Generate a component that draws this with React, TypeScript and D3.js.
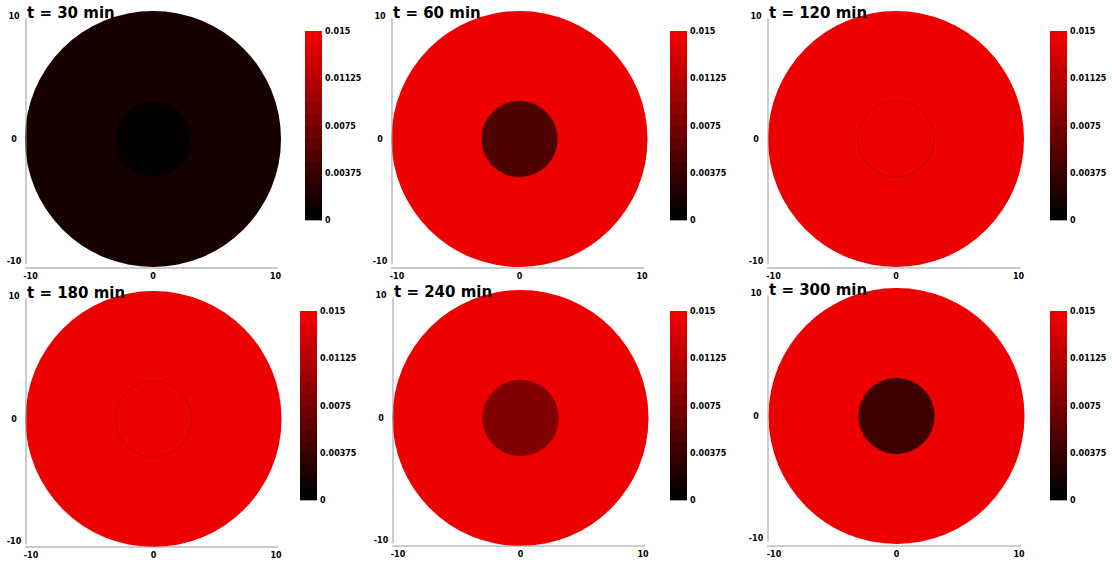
import React from "react";
import * as d3 from "d3";

const times = [30, 60, 120, 180, 240, 300];
const outerValues = [0.00145, 0.015, 0.015, 0.015, 0.015, 0.015];
const innerValues = [0.0003, 0.005, 0.015, 0.015, 0.0081, 0.004];
const outerRadius = 10.45;
const innerRadius = 3.1;
const axisTicks = [-10, 0, 10];
const colorbarTicks = [0, 0.00375, 0.0075, 0.01125, 0.015];
const colorbarLabels = ["0", "0.00375", "0.0075", "0.01125", "0.015"];
const colorLevels = 16;
const vMax = 0.015;

// panel layout (pixels)
const panels = [
  { ax: 26, cx: 153, cy: 139, xl: 268, bx: 305, by: 31 },
  { ax: 392, cx: 519.5, cy: 139, xl: 268, bx: 670, by: 31 },
  { ax: 768, cx: 896, cy: 139, xl: 268, bx: 1050, by: 31 },
  { ax: 26, cx: 153.5, cy: 419, xl: 547, bx: 300, by: 311 },
  { ax: 393, cx: 520.5, cy: 418, xl: 546, bx: 670, by: 311 },
  { ax: 768, cx: 896.5, cy: 416, xl: 546, bx: 1050, by: 311 },
];
const K = 12.25;
const barW = 17;
const barH = 189;

const colorScale = d3
  .scaleLinear<string>()
  .domain([0, vMax])
  .range(["#000000", "#ee0000"])
  .clamp(true);

const levelColors = d3.range(colorLevels).map((k) =>
  colorScale((k / (colorLevels - 1)) * vMax)
);

const font = "'DejaVu Sans', sans-serif";

function Panel({ i }: { i: number }) {
  const p = panels[i];
  const x = d3.scaleLinear().domain([-10, 10]).range([p.cx - 10 * K, p.cx + 10 * K]);
  const y = d3.scaleLinear().domain([-10, 10]).range([p.cy + 10 * K, p.cy - 10 * K]);
  const r = (v: number) => x(v) - x(0);
  const cb = d3.scaleLinear().domain([0, vMax]).range([p.by + barH, p.by]);
  const step = barH / colorLevels;
  return (
    <g>
      <circle cx={x(0)} cy={y(0)} r={r(outerRadius)} fill={colorScale(outerValues[i])} />
      <circle
        cx={x(0)}
        cy={y(0)}
        r={r(innerRadius)}
        fill={colorScale(innerValues[i])}
        stroke="#000"
        strokeOpacity={0.22}
        strokeWidth={0.8}
      />
      {/* axes */}
      <line x1={p.ax} x2={p.ax} y1={y(10) + 2} y2={y(-10) + 3} stroke="#999" strokeWidth={1} />
      <line x1={p.ax - 1} x2={x(10) + 2} y1={p.xl} y2={p.xl} stroke="#999" strokeWidth={1} />
      {axisTicks.map((t) => (
        <text
          key={"y" + t}
          x={p.ax - 12}
          y={y(t)}
          fontSize={8}
          fontWeight="bold"
          fontFamily={font}
          textAnchor="middle"
          dominantBaseline="central"
        >
          {t}
        </text>
      ))}
      {axisTicks.map((t) => (
        <text
          key={"x" + t}
          x={x(t)}
          y={p.xl + 8}
          fontSize={8}
          fontWeight="bold"
          fontFamily={font}
          textAnchor="middle"
          dominantBaseline="central"
        >
          {t}
        </text>
      ))}
      {/* title */}
      <text x={p.ax + 1} y={y(10) + 1.5} fontSize={15} fontWeight="bold" fontFamily={font}>
        {`t = ${times[i]} min`}
      </text>
      {/* colorbar */}
      <g shapeRendering="crispEdges">
        {levelColors.map((c, k) => (
          <rect
            key={k}
            x={p.bx}
            y={p.by + barH - (k + 1) * step}
            width={barW}
            height={step + 0.6}
            fill={c}
          />
        ))}
      </g>
      <line x1={p.bx} x2={p.bx + barW} y1={p.by + barH + 0.5} y2={p.by + barH + 0.5} stroke="#aaa" strokeWidth={1} />
      {colorbarTicks.map((t, k) => (
        <text
          key={"c" + k}
          x={p.bx + barW + 3}
          y={cb(t) + 0.5}
          fontSize={8}
          fontWeight="bold"
          fontFamily={font}
          dominantBaseline="central"
        >
          {colorbarLabels[k]}
        </text>
      ))}
    </g>
  );
}

export default function App() {
  return (
    <svg
      width={1112}
      height={565}
      style={{ position: "absolute", left: 0, top: 0, background: "#fff" }}
    >
      {times.map((_, i) => (
        <Panel key={i} i={i} />
      ))}
    </svg>
  );
}
